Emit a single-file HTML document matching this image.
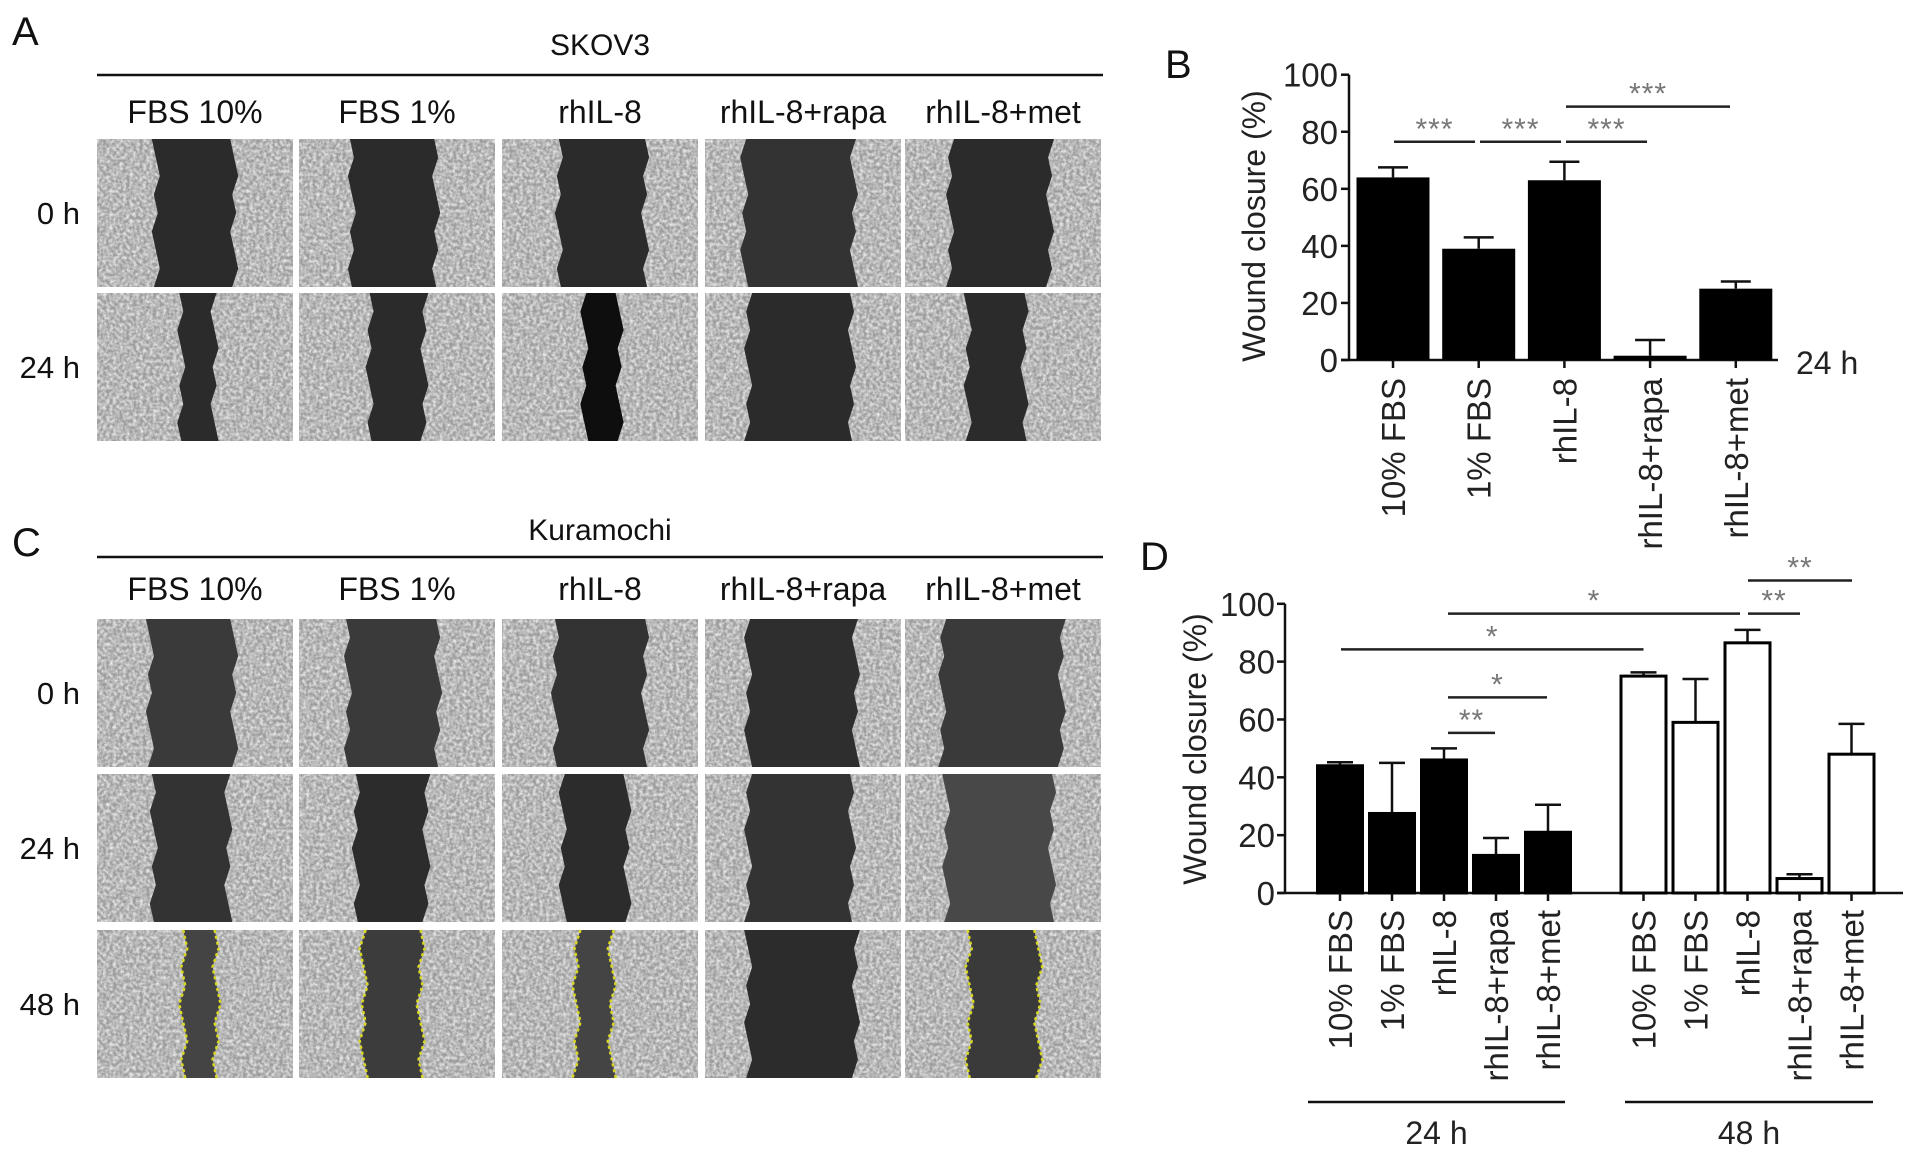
<!DOCTYPE html>
<html><head><meta charset="utf-8"><style>
html,body{margin:0;padding:0;background:#fff;}
svg{display:block;font-family:"Liberation Sans",Arial,sans-serif;}
</style></head><body>
<svg id="fig" width="1913" height="1154" viewBox="0 0 1913 1154" xmlns="http://www.w3.org/2000/svg">
<defs>
<filter id="tex" x="0" y="0" width="100%" height="100%">
<feTurbulence type="fractalNoise" baseFrequency="0.3" numOctaves="2" seed="3" result="n"/>
<feColorMatrix type="matrix" values="0 0 0 0 0.85  0 0 0 0 0.85  0 0 0 0 0.85  1.8 0 0 0 -0.55" in="n" result="c"/>
<feComposite in="c" in2="SourceGraphic" operator="in"/>
</filter>
</defs>
<g id="panelAC"></g>
<g id="panelB"></g>
<g id="panelD"></g>
</svg>
<script>
// ---------- Chart B data ----------
const bCategories = ["10% FBS","1% FBS","rhIL-8","rhIL-8+rapa","rhIL-8+met"];
const bValues = [64, 39, 63, 1.5, 25];
const bErrors = [3.5, 4, 6.5, 5.5, 2.5];
const bTicks = [0,20,40,60,80,100];
// ---------- Chart D data ----------
const dCategories = ["10% FBS","1% FBS","rhIL-8","rhIL-8+rapa","rhIL-8+met"];
const d24Values = [44, 27.5, 46, 13, 21];
const d24Errors = [1.2, 17.5, 4, 6, 9.5];
const d48Values = [75, 59, 86.5, 5, 48];
const d48Errors = [1.3, 15, 4.5, 1.5, 10.5];
const dTicks = [0,20,40,60,80,100];
const dGroups = ["24 h","48 h"];

const NS="http://www.w3.org/2000/svg";
function mk(parent,tag,attrs,text){const e=document.createElementNS(NS,tag);for(const k in attrs)e.setAttribute(k,attrs[k]);if(text!==undefined)e.textContent=text;parent.appendChild(e);return e;}

// ---------- Microscopy panels ----------
const ac=document.getElementById('panelAC');
const colX=[97,299,502,705,905], colW=196;
const headers=["FBS 10%","FBS 1%","rhIL-8","rhIL-8+rapa","rhIL-8+met"];
function letter(t,x,y,n){const e=mk(ac,'text',{x:x,y:y,'font-size':40,fill:'#111'},t);}
letter("A",12,45,'panel-a-label');letter("C",12,556,'panel-c-label');
function section(title,lineY,titleY,hdrY,rowsY,rowsH,rowLabels,bands,yellowTiles,pfx){
  const l=mk(ac,'line',{x1:97,x2:1103,y1:lineY,y2:lineY,stroke:'#111','stroke-width':2.5});
  
  const t=mk(ac,'text',{x:600,y:titleY,'font-size':30,'text-anchor':'middle',fill:'#111'},title);
  
  headers.forEach((h,i)=>{const e=mk(ac,'text',{x:colX[i]+colW/2,y:hdrY,'font-size':32,'text-anchor':'middle',fill:'#111'},h);
    });
  rowsY.forEach((ry,r)=>{
    const rl=mk(ac,'text',{x:80,y:ry+rowsH/2+11,'font-size':31,'text-anchor':'end',fill:'#111'},rowLabels[r]);
    
    colX.forEach((cx,i)=>{
      const g=mk(ac,'g',{});
      
      mk(g,'rect',{x:cx,y:ry,width:colW,height:rowsH,fill:'#9c9c9c'});
      mk(g,'rect',{x:cx,y:ry,width:colW,height:rowsH,fill:'#fff',filter:'url(#tex)'});
      const b=bands[r][i];
      const x1=cx+b[0]*colW,x2=cx+b[1]*colW;
      const jag=(x,s)=>{let p=[];for(let k=0;k<=8;k++){p.push((x+((k*7+s)%5-2)*2)+','+(ry+k*rowsH/8));}return p;};
      const left=jag(x1,i+r), right=jag(x2,i+r*3).reverse();
      mk(g,'polygon',{points:left.concat(right).join(' '),fill:b[2]||'#2b2b2b'});
      if(yellowTiles&&r===rowsY.length-1&&yellowTiles[i]){
        mk(g,'polyline',{points:left.join(' '),fill:'none',stroke:'#d8d820','stroke-width':2.5,'stroke-dasharray':'3 3'});
        mk(g,'polyline',{points:right.join(' '),fill:'none',stroke:'#d8d820','stroke-width':2.5,'stroke-dasharray':'3 3'});
      }
    });
  });
}
section("SKOV3",75,55,123,[139,293],148,["0 h","24 h"],[
 [[.30,.70],[.27,.70],[.29,.73],[.20,.76,'#333'],[.23,.74]],
 [[.43,.60],[.36,.64],[.42,.60,'#0e0e0e'],[.22,.75],[.32,.61]]],null,'skov3');
section("Kuramochi",557,540,600,[619,774,930],148,["0 h","24 h","48 h"],[
 [[.27,.70,'#3a3a3a'],[.25,.71,'#3a3a3a'],[.27,.73,'#333'],[.22,.77,'#2e2e2e'],[.19,.80,'#3a3a3a']],
 [[.29,.67,'#333'],[.29,.65,'#2c2c2c'],[.31,.64,'#2c2c2c'],[.22,.75,'#333'],[.21,.75,'#484848']],
 [[.44,.61,'#444'],[.33,.62,'#3c3c3c'],[.38,.56,'#444'],[.22,.77,'#2c2c2c'],[.33,.68,'#3a3a3a']]],[1,1,1,0,1],'kuramochi');

// ---------- Chart B ----------
(function(){
 const g=document.getElementById('panelB');
 const y0=360,y100=74.7,axX=1349;
 const yS=v=>y0-(v/100)*(y0-y100);
 const xS=i=>1393+i*85.7;
 const bw=73;
 let e=mk(g,'text',{x:1165,y:78,'font-size':40,fill:'#111'},"B");
 e=mk(g,'line',{x1:axX,x2:axX,y1:yS(100),y2:y0,stroke:'#111','stroke-width':2.5});
 e=mk(g,'line',{x1:axX-8,x2:1778,y1:y0,y2:y0,stroke:'#111','stroke-width':2.5});
 bTicks.forEach(t=>{
  const tk=mk(g,'line',{x1:axX-8,x2:axX,y1:yS(t),y2:yS(t),stroke:'#111','stroke-width':2.5});
  const tl=mk(g,'text',{x:axX-11,y:yS(t)+12,'font-size':33,'text-anchor':'end',fill:'#222'},t);
 });
 e=mk(g,'text',{x:0,y:0,'font-size':32,'text-anchor':'middle',fill:'#222',transform:'translate(1265,226) rotate(-90)'},"Wound closure (%)");
 bCategories.forEach((c,i)=>{
  const cx=xS(i);
  const eb=mk(g,'path',{d:`M${cx},${yS(bValues[i])}V${yS(bValues[i]+bErrors[i])}M${cx-15},${yS(bValues[i]+bErrors[i])}H${cx+15}`,stroke:'#111','stroke-width':2.5,fill:'none'});
  
  const r=mk(g,'rect',{x:cx-bw/2,y:yS(bValues[i]),width:bw,height:y0-yS(bValues[i]),fill:'#000'});
  
  const tk=mk(g,'line',{x1:cx,x2:cx,y1:y0,y2:y0+8,stroke:'#111','stroke-width':2.5});
  const tl=mk(g,'text',{x:0,y:0,'font-size':33,'text-anchor':'end',fill:'#222',transform:`translate(${cx+12},378) rotate(-90)`},c);
  
 });
 e=mk(g,'text',{x:1796,y:374,'font-size':32,fill:'#222'},"24 h");
 const sig=[[0,1,141.8,"***"],[1,2,141.8,"***"],[2,3,141.8,"***"],[2,4,106.6,"***"]];
 sig.forEach(s=>{
  const x1=s[0]==0?1394:(s[0]==1?1480:1566),x2=s[1]==1?1475:(s[1]==2?1561:(s[1]==3?1647:1730));
  const l=mk(g,'line',{x1:x1,x2:x2,y1:s[2],y2:s[2],stroke:'#222','stroke-width':2.5});
  const t=mk(g,'text',{x:(x1+x2)/2,y:s[2]-3,'font-size':30,'text-anchor':'middle',fill:'#777','letter-spacing':'1'},s[3]);
 });
})();

// ---------- Chart D ----------
(function(){
 const g=document.getElementById('panelD');
 const y0=893,y100=603.8,axX=1285;
 const yS=v=>y0-(v/100)*(y0-y100);
 const xS=(grp,i)=>1340+i*52+grp*303.5;
 const bw=45;
 let e=mk(g,'text',{x:1140,y:570,'font-size':40,fill:'#111'},"D");
 e=mk(g,'line',{x1:axX,x2:axX,y1:yS(100),y2:y0,stroke:'#111','stroke-width':2.5});
 e=mk(g,'line',{x1:axX-8,x2:1903,y1:y0,y2:y0,stroke:'#111','stroke-width':2.5});
 dTicks.forEach(t=>{
  const tk=mk(g,'line',{x1:axX-8,x2:axX,y1:yS(t),y2:yS(t),stroke:'#111','stroke-width':2.5});
  const tl=mk(g,'text',{x:axX-10,y:yS(t)+12,'font-size':33,'text-anchor':'end',fill:'#222'},t);
 });
 e=mk(g,'text',{x:0,y:0,'font-size':32,'text-anchor':'middle',fill:'#222',transform:'translate(1206,749) rotate(-90)'},"Wound closure (%)");
 [[d24Values,d24Errors,'#000'],[d48Values,d48Errors,'#fff']].forEach((ser,grp)=>{
  dCategories.forEach((c,i)=>{
   const cx=xS(grp,i),v=ser[0][i],er=ser[1][i];
   const eb=mk(g,'path',{d:`M${cx},${yS(v)}V${yS(v+er)}M${cx-13},${yS(v+er)}H${cx+13}`,stroke:'#111','stroke-width':2.5,fill:'none'});
   
   const r=mk(g,'rect',{x:cx-bw/2,y:yS(v),width:bw,height:y0-yS(v),fill:ser[2],stroke:'#000','stroke-width':3});
   
   const tk=mk(g,'line',{x1:cx,x2:cx,y1:y0,y2:y0+8,stroke:'#111','stroke-width':2.5});
   const tl=mk(g,'text',{x:0,y:0,'font-size':33,'text-anchor':'end',fill:'#222',transform:`translate(${cx+12},910) rotate(-90)`},c);
   
  });
 });
 [[1308,1565],[1625,1873]].forEach((p,k)=>{
  const l=mk(g,'line',{x1:p[0],x2:p[1],y1:1102,y2:1102,stroke:'#111','stroke-width':2.5});
  const t=mk(g,'text',{x:(p[0]+p[1])/2,y:1144,'font-size':32,'text-anchor':'middle',fill:'#222'},dGroups[k]);
 });
 const sig=[[1341,1643.5,649.4,"*"],[1448,1740,613.6,"*"],[1448,1547,697.4,"*"],[1448,1495,732.9,"**"],[1748,1800,613.6,"**"],[1748,1852,580.5,"**"]];
 sig.forEach(s=>{
  const l=mk(g,'line',{x1:s[0],x2:s[1],y1:s[2],y2:s[2],stroke:'#222','stroke-width':2.5});
  const t=mk(g,'text',{x:(s[0]+s[1])/2,y:s[2]-3,'font-size':30,'text-anchor':'middle',fill:'#777','letter-spacing':'1'},s[3]);
 });
})();
</script>
</body></html>
